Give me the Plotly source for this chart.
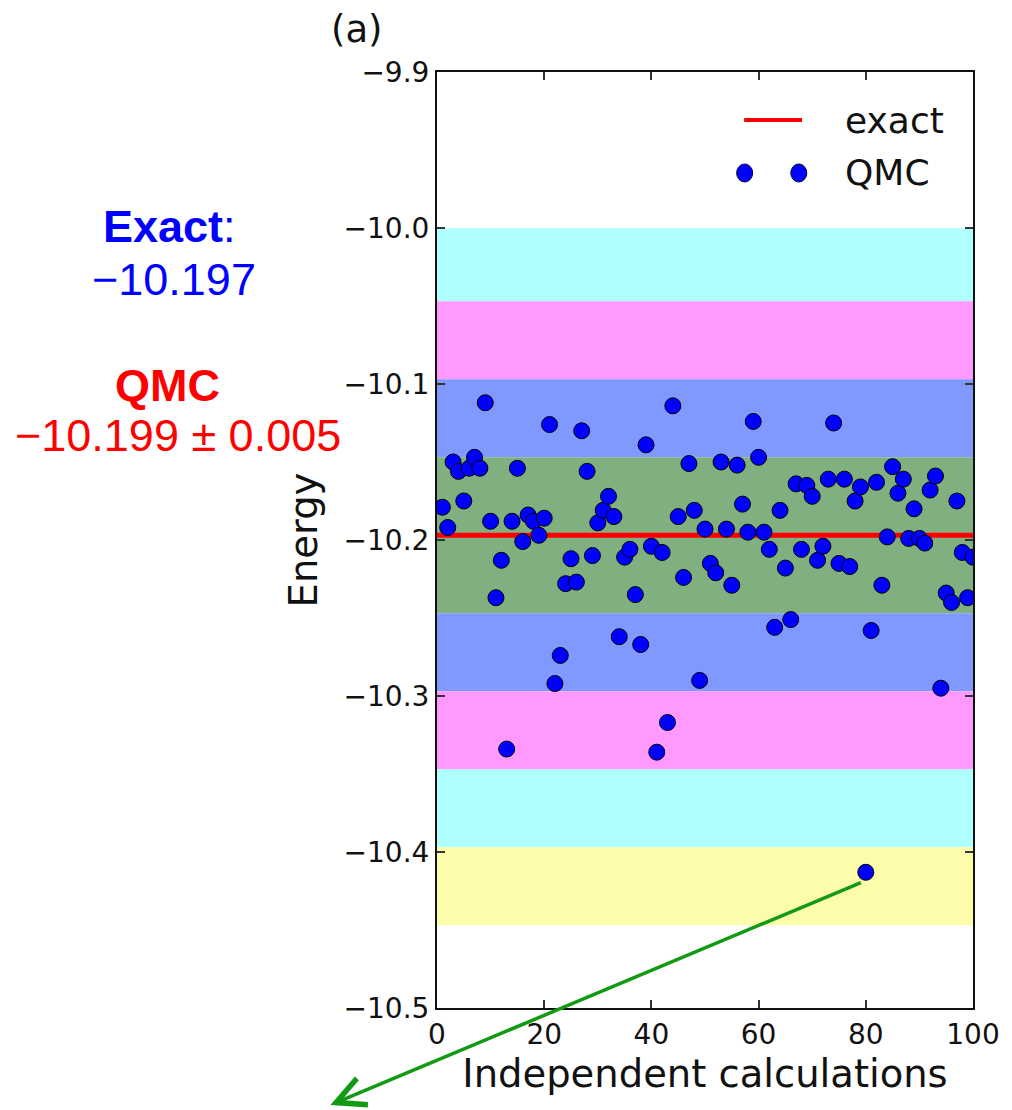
import plotly.graph_objects as go

# Independent QMC runs (index 1..100) and their energies
run_index = list(range(1, 101))
qmc_energy = [
    -10.179, -10.192, -10.150, -10.156, -10.175, -10.154, -10.147, -10.154, -10.112, -10.188,
    -10.237, -10.213, -10.334, -10.188, -10.154, -10.201, -10.184, -10.188, -10.197, -10.186,
    -10.126, -10.292, -10.274, -10.228, -10.212, -10.227, -10.130, -10.156, -10.210, -10.189,
    -10.181, -10.172, -10.185, -10.262, -10.211, -10.206, -10.235, -10.267, -10.139, -10.204,
    -10.336, -10.208, -10.317, -10.114, -10.185, -10.224, -10.151, -10.181, -10.290, -10.193,
    -10.215, -10.221, -10.150, -10.193, -10.229, -10.152, -10.177, -10.195, -10.124, -10.147,
    -10.195, -10.206, -10.256, -10.181, -10.218, -10.251, -10.164, -10.206, -10.165, -10.172,
    -10.213, -10.204, -10.161, -10.125, -10.215, -10.161, -10.217, -10.175, -10.166, -10.413,
    -10.258, -10.163, -10.229, -10.198, -10.153, -10.170, -10.161, -10.199, -10.180, -10.199,
    -10.202, -10.168, -10.159, -10.295, -10.234, -10.240, -10.175, -10.208, -10.237, -10.211,
]

exact_energy = -10.197
qmc_mean_label = "−10.199 ± 0.005"
exact_label = "−10.197"

# Horizontal confidence bands around the exact value (edges, top to bottom)
band_edges = [-10.0, -10.047, -10.097, -10.147, -10.247, -10.297, -10.347, -10.397, -10.447]
band_colors = ["#AFFFFF", "#FF99FF", "#7F99FF", "#80B080", "#7F99FF", "#FF99FF", "#AFFFFF", "#FCFCAA"]

x_range = [0, 100]
y_range = [-10.5, -9.9]
x_ticks = [0, 20, 40, 60, 80, 100]
y_ticks = [-9.9, -10.0, -10.1, -10.2, -10.3, -10.4, -10.5]
y_tick_text = ["−9.9", "−10.0", "−10.1", "−10.2", "−10.3", "−10.4", "−10.5"]

TICK_FONT = dict(family="DejaVu Sans", size=28, color="#111111")
LABEL_FONT = dict(family="DejaVu Sans", size=38.5, color="#111111")

fig = go.Figure()

# exact reference line
fig.add_trace(go.Scatter(
    x=x_range, y=[exact_energy, exact_energy], mode="lines",
    line=dict(color="#FF0000", width=5), showlegend=False, hoverinfo="skip",
))

# QMC results
fig.add_trace(go.Scatter(
    x=run_index, y=qmc_energy, mode="markers",
    marker=dict(size=16, color="#0000FF", line=dict(color="#000000", width=1)),
    showlegend=False,
))

shapes = []
for top, bottom, col in zip(band_edges[:-1], band_edges[1:], band_colors):
    shapes.append(dict(type="rect", xref="paper", yref="y", x0=0, x1=1, y0=bottom, y1=top,
                       fillcolor=col, line=dict(width=0), layer="below"))

# hand-drawn legend: red line + two blue dots
shapes.append(dict(type="line", xref="paper", yref="paper",
                   x0=0.573, x1=0.681, y0=0.9487, y1=0.9487,
                   line=dict(color="#FF0000", width=4)))
for lx in (0.574, 0.675):
    shapes.append(dict(type="circle", xref="paper", yref="paper",
                       xsizemode="pixel", ysizemode="pixel",
                       xanchor=lx, yanchor=0.8921,
                       x0=-8, x1=8, y0=-9, y1=9,
                       fillcolor="#0000FF", line=dict(color="#000033", width=1)))

annotations = [
    dict(text="exact", xref="paper", yref="paper", x=0.757, y=0.9487,
         xanchor="left", yanchor="middle", showarrow=False,
         font=dict(family="DejaVu Sans", size=36, color="#111111")),
    dict(text="QMC", xref="paper", yref="paper", x=0.757, y=0.8921,
         xanchor="left", yanchor="middle", showarrow=False,
         font=dict(family="DejaVu Sans", size=36, color="#111111")),
    dict(text="(a)", xref="paper", yref="paper", x=-0.15, y=1.045,
         xanchor="center", yanchor="middle", showarrow=False,
         font=dict(family="DejaVu Sans", size=37, color="#111111")),
    dict(text="<b>Exact</b>:", xref="paper", yref="paper", x=-0.4991, y=(1008 - 226.5) / 936,
         xanchor="center", yanchor="middle", showarrow=False,
         font=dict(family="Liberation Sans", size=45, color="#0000FF")),
    dict(text=exact_label, xref="paper", yref="paper", x=-0.4907, y=(1008 - 279) / 936,
         xanchor="center", yanchor="middle", showarrow=False,
         font=dict(family="Liberation Sans", size=45, color="#0000FF")),
    dict(text="<b>QMC</b>", xref="paper", yref="paper", x=-0.5028, y=(1008 - 385) / 936,
         xanchor="center", yanchor="middle", showarrow=False,
         font=dict(family="Liberation Sans", size=45, color="#FF0000")),
    dict(text=qmc_mean_label, xref="paper", yref="paper", x=-0.4833, y=(1008 - 436) / 936,
         xanchor="center", yanchor="middle", showarrow=False,
         font=dict(family="Liberation Sans", size=45, color="#FF0000")),
    # green arrow from the outlier run
    dict(text="", xref="paper", yref="paper", x=-0.1989, y=-0.1036,
         axref="pixel", ayref="pixel", ax=532, ay=-223,
         showarrow=True, arrowhead=5, arrowsize=1.6, arrowwidth=3.5,
         arrowcolor="#139A13", standoff=0, startstandoff=0),
]

axis_common = dict(
    showgrid=False, zeroline=False, showline=True, linecolor="#111111", linewidth=2,
    mirror="allticks", ticks="inside", ticklen=8, tickwidth=1.5, tickcolor="#333333",
    tickfont=TICK_FONT,
)

fig.update_layout(
    width=1012, height=1110,
    margin=dict(l=437, r=37, t=72, b=102),
    paper_bgcolor="white", plot_bgcolor="white",
    font=dict(family="DejaVu Sans"),
    shapes=shapes, annotations=annotations,
    xaxis=dict(range=x_range, tickvals=x_ticks,
               title=dict(text="Independent calculations", font=LABEL_FONT, standoff=10),
               **axis_common),
    yaxis=dict(range=y_range, tickvals=y_ticks, ticktext=y_tick_text,
               title=dict(text="Energy", font=LABEL_FONT, standoff=14),
               **axis_common),
)

fig.write_html("out.html")
